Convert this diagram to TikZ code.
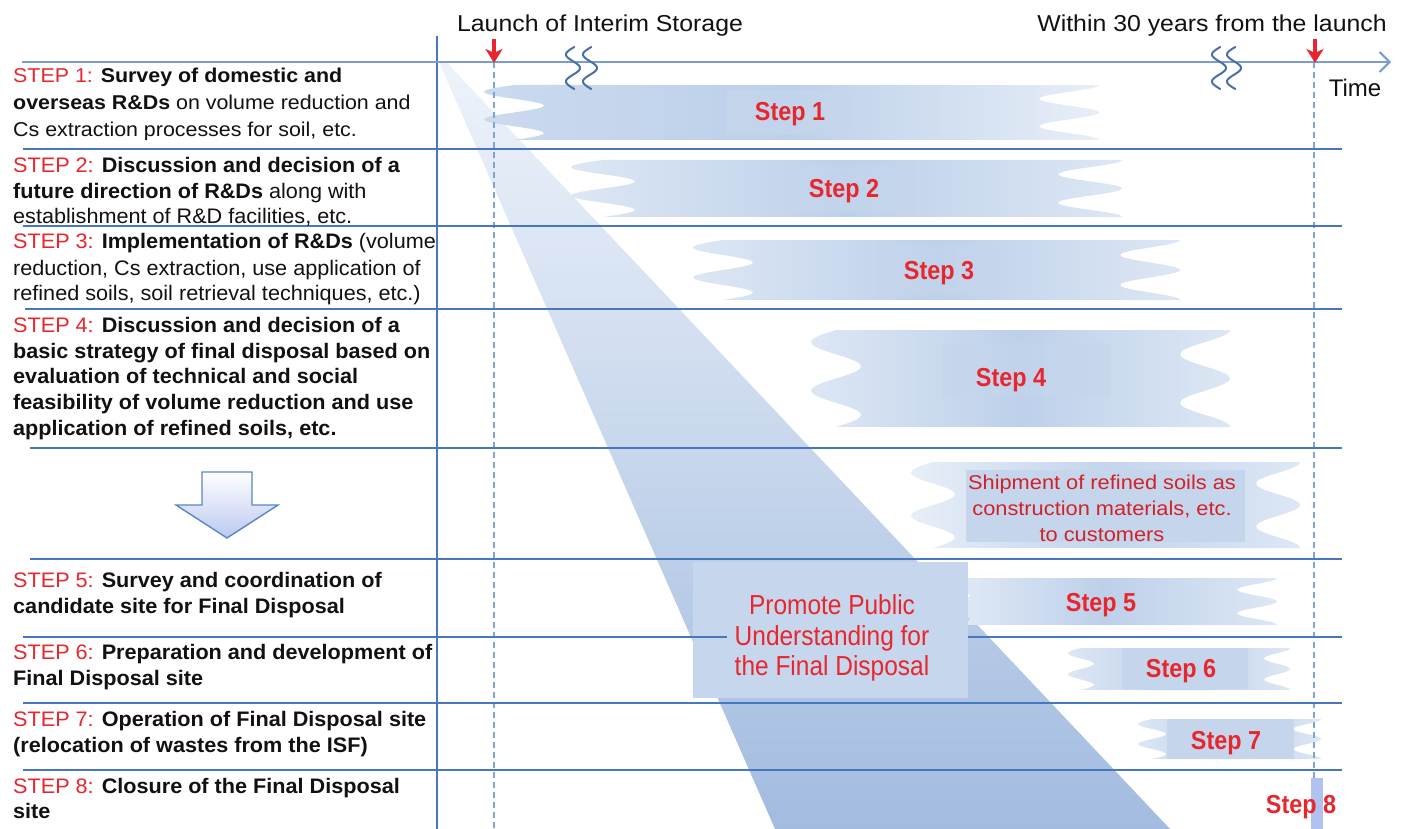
\documentclass[tikz,border=0pt]{standalone}
\usepackage{fontspec}
\setmainfont{Liberation Sans}
\newfontfamily\leftfont[FakeStretch=1.03]{Liberation Sans}
\newfontfamily\leftfontA[FakeStretch=1.07]{Liberation Sans}
\newfontfamily\topfont[FakeStretch=1.08]{Liberation Sans}
\newfontfamily\labfont[FakeStretch=0.9]{Liberation Sans}
\newfontfamily\promfont[FakeStretch=0.89]{Liberation Sans}
\newfontfamily\shipfont[FakeStretch=1.09]{Liberation Sans}
\usetikzlibrary{arrows.meta}
\definecolor{stepred}{HTML}{E8262D}
\definecolor{txtblack}{HTML}{111111}
\definecolor{rowblue}{HTML}{4777BD}
\definecolor{axisblue}{HTML}{7A9CD0}
\definecolor{dashblue}{HTML}{7FA3D6}
\definecolor{breakblue}{HTML}{4A6FA5}
\definecolor{triTop}{HTML}{EEF3FA}
\definecolor{triBot}{HTML}{A2BBDF}
\definecolor{barEnd}{HTML}{DDE7F4}
\definecolor{barMid}{HTML}{BDD0EA}
\definecolor{lblbg}{HTML}{C5D6EC}
\definecolor{promobg}{HTML}{C6D7ED}
\definecolor{arrowblue}{HTML}{5B86C5}
\newcommand{\stp}[1]{\textcolor{stepred}{#1}}
\newcommand{\wbar}[6]{%
  \shade[#6] plot[domain=0:1, samples=41, smooth] ({#1 - #5*sin(720*\x)}, {#3 + (#4-#3)*\x})
    -- plot[domain=1:0, samples=41, smooth] ({#2 + #5*cos(720*\x)}, {#3 + (#4-#3)*\x}) -- cycle;}
\newcommand{\brk}[1]{%
  \draw[breakline] plot[domain=-100:460, samples=60, smooth] ({#1 - 7*cos(\x)}, {47 + 0.075*(\x+100)});}
\begin{document}
\begin{tikzpicture}[x=1pt,y=-1pt,
  lefttxt/.style={anchor=base west, inner sep=0pt, font=\leftfont\fontsize{21}{26}\selectfont, text=txtblack},
  lefttxtA/.style={anchor=base west, inner sep=0pt, font=\leftfontA\fontsize{20}{26}\selectfont, text=txtblack},
  steplab/.style={anchor=base, inner sep=0pt, text=stepred, font=\labfont\bfseries\fontsize{26}{28}\selectfont},
  promtxt/.style={anchor=base, inner sep=0pt, text=stepred, font=\promfont\fontsize{27.5}{30}\selectfont},
  shiptxt/.style={anchor=base, inner sep=0pt, text=stepred!90!black, font=\shipfont\fontsize{20}{24}\selectfont},
  toplab/.style={anchor=base, inner sep=0pt, text=txtblack, font=\topfont\fontsize{23}{26}\selectfont},
  timelab/.style={anchor=base, inner sep=0pt, text=txtblack, font=\fontsize{24}{26}\selectfont},
  rowline/.style={draw=rowblue, line width=2.6pt},
  vline/.style={draw=rowblue, line width=2.2pt},
  axisline/.style={draw=axisblue, line width=2pt, -{Straight Barb[length=10pt,width=20pt]}},
  dashline/.style={draw=dashblue, line width=1.3pt, dash pattern=on 6pt off 4pt},
  redarrow/.style={draw=stepred, line width=3.2pt, -{Stealth[length=14pt,width=17pt,inset=4pt]}},
  breakline/.style={draw=breakblue, line width=2pt, line cap=round},
  blockarrow/.style={draw=arrowblue, line width=1.4pt, top color=white, bottom color=barMid!90!blue!80!white, line join=miter}
]
\useasboundingbox (0,0) rectangle (1404,829);
\fill[white] (0,0) rectangle (1404,829);

% promotion wedge
\shade[top color=triTop, bottom color=triBot] (439,62) -- (446,62) -- (1170,829) -- (775,829) -- cycle;

% wavy bars
\wbar{514}{1069}{85}{140}{30}{left color=barMid!80!white, right color=barEnd!70!white, middle color=barMid}
\wbar{603}{1090}{160}{217}{32}{left color=barEnd, right color=barEnd, middle color=barMid}
\wbar{723}{1150}{240}{300}{30}{left color=barEnd, right color=barEnd, middle color=barMid}
\wbar{836}{1205}{330}{427}{25}{left color=barEnd, right color=barEnd, middle color=barMid}
\wbar{933}{1278}{462}{548}{22}{left color=barEnd!70!white, right color=barEnd, middle color=barMid!80!barEnd}
\wbar{950}{1257}{578}{625}{20}{left color=barEnd!70!white, right color=barEnd, middle color=barMid}
\wbar{1081}{1277}{648}{690}{13}{left color=barEnd, right color=barEnd, middle color=barMid}
\wbar{1152}{1307}{719}{759}{14}{left color=barEnd, right color=barEnd, middle color=barMid}

% label backgrounds
\fill[lblbg, opacity=0.7] (727,90) rectangle (852,135);
\fill[lblbg, opacity=0.6] (790,165) rectangle (905,212);
\fill[lblbg, opacity=0.6] (880,245) rectangle (1000,295);
\fill[lblbg, opacity=0.5] (942,343) rectangle (1111,397);
\fill[lblbg] (966,470) rectangle (1245,542);
\fill[lblbg] (1122,648) rectangle (1248,689);
\fill[lblbg] (1167,719) rectangle (1294,759);

% promote box
\fill[promobg] (693,562) rectangle (968,698);

% dashed time markers
\coordinate (d1a) at (494,62); \coordinate (d1b) at (494,829);
\coordinate (d2a) at (1314,62); \coordinate (d2b) at (1314,829);
\draw[dashline] (d1a) -- (d1b);
\draw[dashline] (d2a) -- (d2b);
\fill[barMid!90!blue!90!white] (1311,778) rectangle (1323,829);

% row separators
\foreach \yy/\xs in {149/23, 226/23, 309/25, 448/30, 559/30, 703/23, 770/23}{
  \coordinate (ra) at (\xs,\yy); \coordinate (rb) at (1342,\yy);
  \draw[rowline] (ra) -- (rb);
}
\coordinate (r6a) at (23,637); \coordinate (r6b) at (727,637);
\coordinate (r6c) at (968,637); \coordinate (r6d) at (1342,637);
\draw[rowline] (r6a) -- (r6b);
\draw[rowline] (r6c) -- (r6d);

% vertical divider
\coordinate (v0) at (437,36); \coordinate (v1) at (437,829);
\draw[vline] (v0) -- (v1);

% time axis
\coordinate (ax0) at (22,62); \coordinate (ax1) at (1391,62);
\draw[axisline] (ax0) -- (ax1);

% break marks
\brk{573}\brk{590}
\brk{1219}\brk{1234}

% red arrows
\coordinate (ra1) at (494,39); \coordinate (ra2) at (494,63);
\coordinate (rb1) at (1315,39); \coordinate (rb2) at (1315,63);
\draw[redarrow] (ra1) -- (ra2);
\draw[redarrow] (rb1) -- (rb2);

% block arrow
\draw[blockarrow] (202,472) -- (252,472) -- (252,505) -- (278,505) -- (227,538) -- (176,505) -- (202,505) -- cycle;

% top labels
\node[toplab] (launch) at (600,32) {Launch of Interim Storage};
\node[toplab] (within) at (1212,32) {Within 30 years from the launch};
\node[timelab] (time) at (1355,97) {Time};

% step labels in bars
\node[steplab] (l1) at (790,121) {Step 1};
\node[steplab] (l2) at (844,197) {Step 2};
\node[steplab] (l3) at (939,279) {Step 3};
\node[steplab] (l4) at (1011,386) {Step 4};
\node[steplab] (l5) at (1101,611) {Step 5};
\node[steplab] (l6) at (1181,677) {Step 6};
\node[steplab] (l7) at (1226,749) {Step 7};
\node[steplab] (l8) at (1301,813) {Step 8};

\node[shiptxt] (sh1) at (1102,489) {Shipment of refined soils as};
\node[shiptxt] (sh2) at (1102,515) {construction materials, etc.};
\node[shiptxt] (sh3) at (1102,541) {to customers};

\node[promtxt] (p1) at (832,614) {Promote Public};
\node[promtxt] (p2) at (832,645) {Understanding for};
\node[promtxt] (p3) at (832,675) {the Final Disposal};

% left column texts
\node[lefttxtA] (s1a) at (13,83) {\stp{STEP 1:} \textbf{Survey of domestic and}};
\node[lefttxtA] (s1b) at (13,110) {\textbf{overseas R\&Ds} on volume reduction and};
\node[lefttxtA] (s1c) at (13,137) {Cs extraction processes for soil, etc.};

\node[lefttxt] (s2a) at (13,172) {\stp{STEP 2:} \textbf{Discussion and decision of a}};
\node[lefttxt] (s2b) at (13,198) {\textbf{future direction of R\&Ds} along with};
\node[lefttxt] (s2c) at (13,223) {establishment of R\&D facilities, etc.};

\node[lefttxt] (s3a) at (13,248) {\stp{STEP 3:} \textbf{Implementation of R\&Ds} (volume};
\node[lefttxt] (s3b) at (13,275) {reduction, Cs extraction, use application of};
\node[lefttxt] (s3c) at (13,300) {refined soils, soil retrieval techniques, etc.)};

\node[lefttxt] (s4a) at (13,332) {\stp{STEP 4:} \textbf{Discussion and decision of a}};
\node[lefttxt] (s4b) at (13,358) {\textbf{basic strategy of final disposal based on}};
\node[lefttxt] (s4c) at (13,383) {\textbf{evaluation of technical and social}};
\node[lefttxt] (s4d) at (13,409) {\textbf{feasibility of volume reduction and use}};
\node[lefttxt] (s4e) at (13,435) {\textbf{application of refined soils, etc.}};

\node[lefttxt] (s5a) at (13,587) {\stp{STEP 5:} \textbf{Survey and coordination of}};
\node[lefttxt] (s5b) at (13,613) {\textbf{candidate site for Final Disposal}};

\node[lefttxt] (s6a) at (13,659) {\stp{STEP 6:} \textbf{Preparation and development of}};
\node[lefttxt] (s6b) at (13,685) {\textbf{Final Disposal site}};

\node[lefttxt] (s7a) at (13,726) {\stp{STEP 7:} \textbf{Operation of Final Disposal site}};
\node[lefttxt] (s7b) at (13,752) {\textbf{(relocation of wastes from the ISF)}};

\node[lefttxt] (s8a) at (13,793) {\stp{STEP 8:} \textbf{Closure of the Final Disposal}};
\node[lefttxt] (s8b) at (13,818) {\textbf{site}};
\end{tikzpicture}
\end{document}
